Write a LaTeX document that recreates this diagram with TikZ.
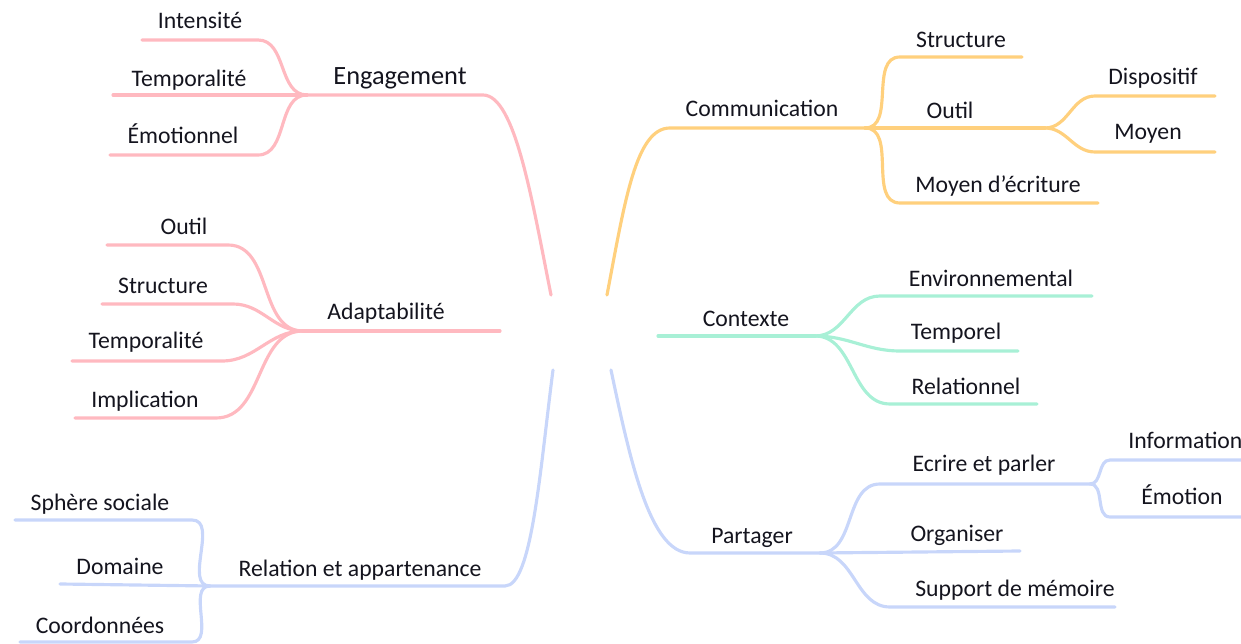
\documentclass[tikz,border=0pt]{standalone}
\usepackage{fontspec}
\setmainfont{Carlito}
\usepackage{xcolor}
\usetikzlibrary{positioning,calc}

\definecolor{pinkline}{RGB}{255,185,192}
\definecolor{orangeline}{RGB}{255,208,125}
\definecolor{mintline}{RGB}{168,240,214}
\definecolor{blueline}{RGB}{200,214,250}
\definecolor{labeltext}{RGB}{20,20,30}

\tikzset{
    leaf/.style={font=\fontsize{13.5}{16}\selectfont, text=labeltext, anchor=base, inner sep=0pt, yshift=-1pt},
    branch/.style={line width=1.8pt, line cap=round},
}

\begin{document}
\begin{tikzpicture}[x=0.02cm, y=-0.02cm]
    \useasboundingbox (0,0) rectangle (1241,644);

    % Engagement (pink)
    \coordinate (engJ) at (307,95);
    \coordinate (engR) at (483,95);
    \coordinate (engC) at (551,295);
    \coordinate (intA) at (142,40);  \coordinate (intB) at (258,40);
    \coordinate (temA) at (113,95);
    \coordinate (emoA) at (110,155); \coordinate (emoB) at (258,155);
    \node[leaf, font=\fontsize{15}{18}\selectfont] (eng) at (400,83) {Engagement};
    \node[leaf] (int) at (200,27) {Intensité};
    \node[leaf] (tem) at (189,85) {Temporalité};
    \node[leaf] (emo) at (183,142) {Émotionnel};
    \draw[branch, pinkline] (engJ) -- (engR) .. controls (515,95) and (532,200) .. (engC);
    \draw[branch, pinkline] (intA) -- (intB) to[out=0, in=180] (engJ);
    \draw[branch, pinkline] (temA) -- (engJ);
    \draw[branch, pinkline] (emoA) -- (emoB) to[out=0, in=180] (engJ);

    % Adaptabilite (pink)
    \coordinate (adaJ) at (303,331);
    \coordinate (adaR) at (500,331);
    \coordinate (outA) at (107,245); \coordinate (outB) at (228,245);
    \coordinate (strA) at (102,304); \coordinate (strB) at (233,304);
    \coordinate (tpoA) at (72,361);  \coordinate (tpoB) at (222,361);
    \coordinate (impA) at (75,418);  \coordinate (impB) at (216,418);
    \node[leaf] (ada) at (386,318) {Adaptabilité};
    \node[leaf] (out) at (184,233) {Outil};
    \node[leaf] (str) at (163,292) {Structure};
    \node[leaf] (tpo) at (146,347) {Temporalité};
    \node[leaf] (imp) at (145,406) {Implication};
    \draw[branch, pinkline] (adaJ) -- (adaR);
    \draw[branch, pinkline] (outA) -- (outB) to[out=0, in=180] (adaJ);
    \draw[branch, pinkline] (strA) -- (strB) to[out=0, in=180] (adaJ);
    \draw[branch, pinkline] (tpoA) -- (tpoB) to[out=0, in=180] (adaJ);
    \draw[branch, pinkline] (impA) -- (impB) to[out=0, in=180] (adaJ);

    % Relation et appartenance (blue)
    \coordinate (relJ) at (210,586);
    \coordinate (relR) at (505,586);
    \coordinate (relC) at (553,370);
    \coordinate (sphA) at (15,520);  \coordinate (sphB) at (192,520);
    \coordinate (domA) at (60,584);
    \coordinate (cooA) at (20,642);  \coordinate (cooB) at (192,642);
    \node[leaf] (rel) at (360,575) {Relation et appartenance};
    \node[leaf] (sph) at (100,509) {Sphère sociale};
    \node[leaf] (dom) at (120,573) {Domaine};
    \node[leaf] (coo) at (100,632) {Coordonnées};
    \draw[branch, blueline] (relJ) -- (relR) .. controls (532,586) and (540,470) .. (relC);
    \draw[branch, blueline] (sphA) -- (sphB) to[out=0, in=180] (relJ);
    \draw[branch, blueline] (domA) -- (relJ);
    \draw[branch, blueline] (cooA) -- (cooB) to[out=0, in=180] (relJ);

    % Communication (orange)
    \coordinate (comC) at (607,295);
    \coordinate (comL) at (670,128);
    \coordinate (comJ) at (865,128);
    \coordinate (stcA) at (900,57);   \coordinate (stcB) at (1022,57);
    \coordinate (otlJ) at (1045,128);
    \coordinate (dspA) at (1095,96);  \coordinate (dspB) at (1215,96);
    \coordinate (moyA) at (1095,152); \coordinate (moyB) at (1215,152);
    \coordinate (mdeA) at (900,203);  \coordinate (mdeB) at (1098,203);
    \node[leaf] (com) at (762,115) {Communication};
    \node[leaf] (stc) at (961,46) {Structure};
    \node[leaf] (otl) at (950,117) {Outil};
    \node[leaf] (dsp) at (1153,83) {Dispositif};
    \node[leaf] (moy) at (1148,138) {Moyen};
    \node[leaf] (mde) at (998,191) {Moyen d'écriture};
    \draw[branch, orangeline] (comC) .. controls (625,200) and (636,128) .. (comL) -- (comJ);
    \draw[branch, orangeline] (comJ) to[out=0, in=180] (stcA) -- (stcB);
    \draw[branch, orangeline] (comJ) -- (otlJ);
    \draw[branch, orangeline] (otlJ) to[out=0, in=180] (dspA) -- (dspB);
    \draw[branch, orangeline] (otlJ) to[out=0, in=180] (moyA) -- (moyB);
    \draw[branch, orangeline] (comJ) to[out=0, in=180] (mdeA) -- (mdeB);

    % Contexte (mint)
    \coordinate (ctxL) at (658,336);
    \coordinate (ctxJ) at (815,336);
    \coordinate (envA) at (880,296);  \coordinate (envB) at (1092,296);
    \coordinate (tmpA) at (900,351);  \coordinate (tmpB) at (1018,351);
    \coordinate (rlnA) at (890,404);  \coordinate (rlnB) at (1037,404);
    \node[leaf] (ctx) at (746,325) {Contexte};
    \node[leaf] (env) at (991,285) {Environnemental};
    \node[leaf] (tmp) at (956,338) {Temporel};
    \node[leaf] (rln) at (966,393) {Relationnel};
    \draw[branch, mintline] (ctxL) -- (ctxJ);
    \draw[branch, mintline] (ctxJ) to[out=0, in=180] (envA) -- (envB);
    \draw[branch, mintline] (ctxJ) to[out=0, in=180] (tmpA) -- (tmpB);
    \draw[branch, mintline] (ctxJ) to[out=0, in=180] (rlnA) -- (rlnB);

    % Partager (blue)
    \coordinate (parC) at (611,370);
    \coordinate (parL) at (690,553);
    \coordinate (parJ) at (820,553);
    \coordinate (eepA) at (880,484);  \coordinate (eepJ) at (1090,484);
    \coordinate (infA) at (1110,460); \coordinate (infB) at (1250,460);
    \coordinate (emnA) at (1110,517); \coordinate (emnB) at (1250,517);
    \coordinate (orgB) at (1020,551);
    \coordinate (supA) at (890,607);  \coordinate (supB) at (1115,607);
    \node[leaf] (par) at (752,542) {Partager};
    \node[leaf] (eep) at (984,470) {Ecrire et parler};
    \node[leaf, anchor=base west] (inf) at (1128,447) {Information};
    \node[leaf] (emn) at (1182,503) {Émotion};
    \node[leaf] (org) at (957,540) {Organiser};
    \node[leaf] (sup) at (1015,595) {Support de mémoire};
    \draw[branch, blueline] (parC) .. controls (630,460) and (650,553) .. (parL) -- (parJ);
    \draw[branch, blueline] (parJ) to[out=0, in=180] (eepA) -- (eepJ);
    \draw[branch, blueline] (eepJ) to[out=0, in=180] (infA) -- (infB);
    \draw[branch, blueline] (eepJ) to[out=0, in=180] (emnA) -- (emnB);
    \draw[branch, blueline] (parJ) -- (orgB);
    \draw[branch, blueline] (parJ) to[out=0, in=180] (supA) -- (supB);
\end{tikzpicture}
\end{document}
